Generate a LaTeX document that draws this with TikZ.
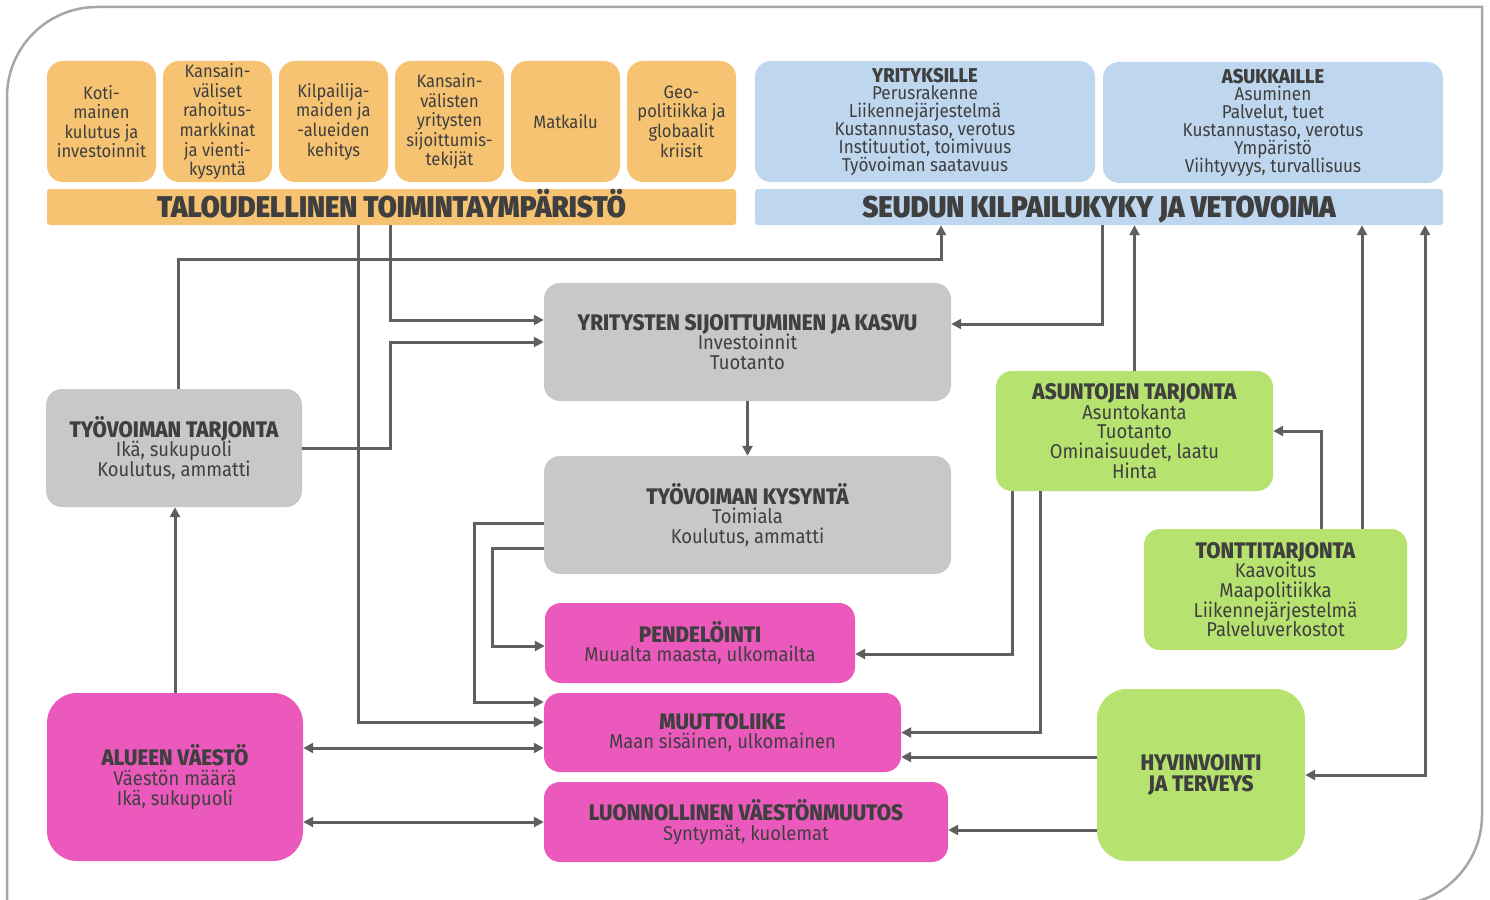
\documentclass[tikz,border=0pt]{standalone}
\usepackage{fontspec}
\IfFontExistsTF{Fira Sans ExtraBold}
  {\setmainfont{Fira Sans}[FakeStretch=0.92, BoldFont={Fira Sans ExtraBold}]}
  {\setmainfont{Fira Sans}[FakeStretch=0.92]}
\IfFontExistsTF{Fira Sans Black}
  {\newfontfamily\heavyfont{Fira Sans Black}[FakeStretch=0.92]}
  {\newcommand\heavyfont{\bfseries}}
\usetikzlibrary{arrows.meta}

\definecolor{txt}{HTML}{3F3F3F}
\definecolor{orbg}{HTML}{F6C372}
\definecolor{blbg}{HTML}{BED6EE}
\definecolor{grbg}{HTML}{C8C8C8}
\definecolor{gnbg}{HTML}{B6E26F}
\definecolor{pkbg}{HTML}{EB59BD}
\definecolor{arr}{HTML}{5F5F5F}
\definecolor{frm}{HTML}{A6A6A6}

\newcommand\bodyfont{\fontsize{20}{19.6}\selectfont\lineskiplimit=-100pt}
\newcommand\orfont{\fontsize{18}{19.6}\selectfont\lineskiplimit=-100pt}
\newcommand\smallbody{\fontsize{18.6}{17.8}\selectfont\lineskiplimit=-100pt}
\newcommand\barfont{\fontsize{30}{30}\selectfont\heavyfont}
\newcommand\hd[1]{{\fontsize{22.5}{19.6}\selectfont\bfseries #1}}
\newcommand\bhd[1]{{\fontsize{20}{17.8}\selectfont\bfseries #1}}

\tikzset{
  box/.style={rounded corners=16pt, align=center, text=txt, inner sep=0pt, font=\bodyfont},
  orbox/.style={box, fill=orbg, minimum width=109pt, minimum height=121pt, font=\orfont},
  blbox/.style={box, fill=blbg, minimum width=340pt, minimum height=121pt, font=\smallbody},
  bar/.style={rounded corners=3pt, minimum height=36pt, inner sep=0pt, text height=21pt, text depth=0pt, text=txt, font=\barfont},
  graybox/.style={box, fill=grbg},
  greenbox/.style={box, fill=gnbg},
  pinkbox/.style={box, fill=pkbg},
  conn/.style={draw=arr, line width=3pt, -{Triangle[length=10pt, width=10pt]}},
  conn2/.style={conn, {Triangle[length=10pt, width=10pt]}-{Triangle[length=10pt, width=10pt]}},
  frame/.style={draw=frm, line width=2.5pt}
}

\begin{document}
\begin{tikzpicture}[x=1pt, y=-1pt]
  \useasboundingbox (0,0) rectangle (1490,899);

  % outer frame
  \draw[frame] (7,905) -- (7,97) arc[start angle=180, end angle=270, radius=90]
    -- (1482,7) -- (1482,815) arc[start angle=0, end angle=90, radius=90] -- (1300,905);

  % economic environment
  \node[orbox] (kot) at (101.5,121.5) {Koti-\\mainen\\kulutus ja\\investoinnit};
  \node[orbox] (rah) at (217.5,121.5) {Kansain-\\väliset\\rahoitus-\\markkinat\\ja vienti-\\kysyntä};
  \node[orbox] (kil) at (333.5,121.5) {Kilpailija-\\maiden ja\\-alueiden\\kehitys};
  \node[orbox] (sij) at (449.5,121.5) {Kansain-\\välisten\\yritysten\\sijoittumis-\\tekijät};
  \node[orbox] (mat) at (565.5,121.5) {Matkailu};
  \node[orbox] (geo) at (681.5,121.5) {Geo-\\politiikka ja\\globaalit\\kriisit};
  \node[bar, fill=orbg, minimum width=689pt] (orbar) at (391.5,207) {TALOUDELLINEN TOIMINTAYMPÄRISTÖ};

  % competitiveness
  \node[blbox] (yri) at (925,121.5) {\bhd{YRITYKSILLE}\\Perusrakenne\\Liikennejärjestelmä\\Kustannustaso, verotus\\Instituutiot, toimivuus\\Työvoiman saatavuus};
  \node[blbox] (asu) at (1273,122.5) {\bhd{ASUKKAILLE}\\Asuminen\\Palvelut, tuet\\Kustannustaso, verotus\\Ympäristö\\Viihtyvyys, turvallisuus};
  \node[bar, fill=blbg, minimum width=688pt] (blbar) at (1099,207) {SEUDUN KILPAILUKYKY JA VETOVOIMA};

  % economy and labour
  \node[graybox, minimum width=407pt, minimum height=118pt] (kasvu) at (747.5,342) {\hd{YRITYSTEN SIJOITTUMINEN JA KASVU}\\Investoinnit\\Tuotanto};
  \node[graybox, minimum width=256pt, minimum height=118pt] (ttarj) at (174,448) {\hd{TYÖVOIMAN TARJONTA}\\Ikä, sukupuoli\\Koulutus, ammatti};
  \node[graybox, minimum width=407pt, minimum height=118pt] (kysy) at (747.5,515) {\hd{TYÖVOIMAN KYSYNTÄ}\\Toimiala\\Koulutus, ammatti};

  % housing and wellbeing
  \node[greenbox, minimum width=277pt, minimum height=120pt] (asun) at (1134.5,431) {\hd{ASUNTOJEN TARJONTA}\\Asuntokanta\\Tuotanto\\Ominaisuudet, laatu\\Hinta};
  \node[greenbox, minimum width=263pt, minimum height=121pt] (tont) at (1275.5,589.5) {\hd{TONTTITARJONTA}\\Kaavoitus\\Maapolitiikka\\Liikennejärjestelmä\\Palveluverkostot};
  \node[greenbox, rounded corners=30pt, minimum width=208pt, minimum height=172pt, font=\fontsize{20}{21}\selectfont] (hyv) at (1201,775) {\hd{HYVINVOINTI}\\\hd{JA TERVEYS}};

  % population
  \node[pinkbox, minimum width=310pt, minimum height=80pt] (pend) at (700,643) {\hd{PENDELÖINTI}\\Muualta maasta, ulkomailta};
  \node[pinkbox, minimum width=357pt, minimum height=79pt] (muut) at (722.5,732.5) {\hd{MUUTTOLIIKE}\\Maan sisäinen, ulkomainen};
  \node[pinkbox, minimum width=404pt, minimum height=80pt] (luon) at (746,822) {\hd{LUONNOLLINEN VÄESTÖNMUUTOS}\\Syntymät, kuolemat};
  \node[pinkbox, rounded corners=30pt, minimum width=256pt, minimum height=168pt] (vae) at (175,777) {\hd{ALUEEN VÄESTÖ}\\Väestön määrä\\Ikä, sukupuoli};

  % connectors
  \draw[conn] ([xshift=-33.5pt]orbar.south) |- ([yshift=10.5pt]muut.west);
  \draw[conn] ([xshift=-1.5pt]orbar.south) |- ([yshift=22pt]kasvu.west);
  \draw[conn] ([xshift=4pt]ttarj.north) -- ++(0,-129) -| ([xshift=-158pt]blbar.south);
  \draw[conn] (ttarj.east) -- ++(88,0) |- (kasvu.west);
  \draw[conn] ([xshift=3pt]blbar.south) |- ([yshift=18pt]kasvu.east);
  \draw[conn] (asun.north) -- (asun.north |- blbar.south);
  \draw[conn] ([xshift=45.5pt]tont.north) |- (asun.east);
  \draw[conn] ([xshift=86.5pt]tont.north) -- ([xshift=86.5pt]tont.north |- blbar.south);
  \draw[conn2] (hyv.east) -| ([xshift=326pt]blbar.south);
  \draw[conn] (kasvu.south) -- (kysy.north);
  \draw[conn] ([yshift=-8pt]kysy.west) -- ++(-69,0) |- ([yshift=30.5pt]muut.west);
  \draw[conn] ([yshift=-33pt]kysy.west) -- ++(-51,0) |- ([yshift=-3pt]pend.west);
  \draw[conn] ([xshift=-122.5pt]asun.south) |- ([yshift=-11pt]pend.east);
  \draw[conn] ([xshift=-94.5pt]asun.south) |- (muut.east);
  \draw[conn] ([yshift=18pt]hyv.west) -- ([yshift=18pt]hyv.west -| muut.east);
  \draw[conn] ([yshift=-55pt]hyv.west) -- ([yshift=-55pt]hyv.west -| luon.east);
  \draw[conn2] ([yshift=29pt]vae.east) -- ([yshift=29pt]vae.east -| muut.west);
  \draw[conn2] (luon.west -| vae.east) -- (luon.west);
  \draw[conn] (vae.north) -- (vae.north |- ttarj.south);
\end{tikzpicture}
\end{document}
